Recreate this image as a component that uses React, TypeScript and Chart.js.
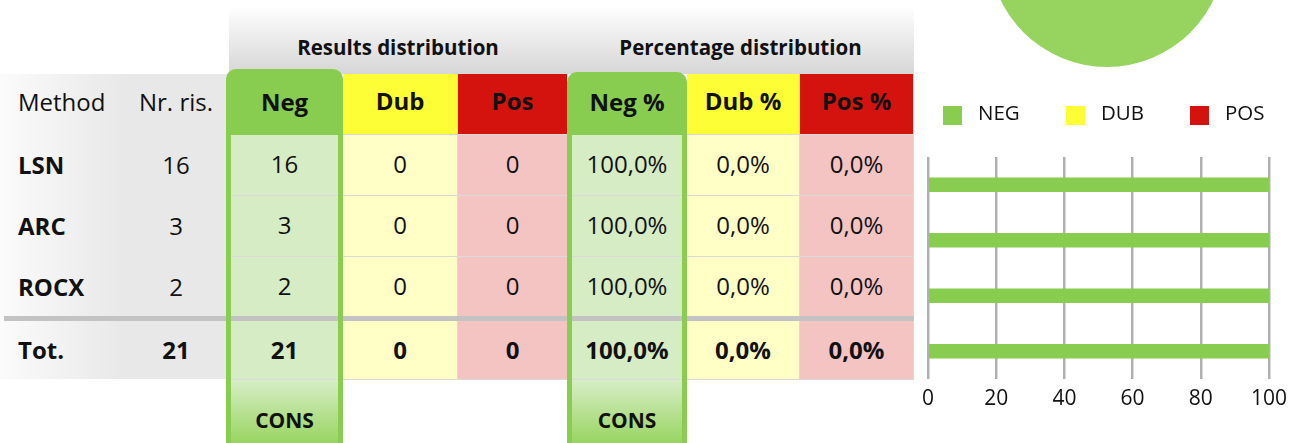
import React, { useEffect, useRef } from 'react';
import { Chart, registerables } from 'chart.js';

Chart.register(...registerables);

// ---------------- data ----------------
const methods = ['LSN', 'ARC', 'ROCX'];
const nrRis = [16, 3, 2];
const negCounts = [16, 3, 2];
const dubCounts = [0, 0, 0];
const posCounts = [0, 0, 0];
const totalLabel = 'Tot.';

const groupTitles = ['Results distribution', 'Percentage distribution'];
const leftHeads = ['Method', 'Nr. ris.'];
const columnHeads = ['Neg', 'Dub', 'Pos', 'Neg %', 'Dub %', 'Pos %'];
const footerLabel = 'CONS';

const barCategories = ['LSN', 'ARC', 'ROCX', 'Tot.'];
const negPercent = [100, 100, 100, 100];
const dubPercent = [0, 0, 0, 0];
const posPercent = [0, 0, 0, 0];
const seriesNames = ['NEG', 'DUB', 'POS'];
const xTickValues = [0, 20, 40, 60, 80, 100];
const pieTotals = [21, 0, 0];

// ---------------- styles ----------------
const FONT = '"Open Sans", "Noto Sans", sans-serif';
const GREEN = '#88cc50';
const GREEN_L = '#d6ecc4';
const PIE_GREEN = '#97d45f';
const YELLOW = '#fefe36';
const YELLOW_L = '#ffffc6';
const RED = '#d4130f';
const RED_L = '#f4c4c2';
const LINE = '#dadada';
const TEXT = '#111';

const sum = (a: number[]) => a.reduce((x, y) => x + y, 0);
const pct = (c: number, n: number) => (n ? (c / n) * 100 : 0);
const fmtPct = (v: number) => v.toFixed(1).replace('.', ',') + '%';

const totNr = sum(nrRis);
const totNeg = sum(negCounts);
const totDub = sum(dubCounts);
const totPos = sum(posCounts);

const columnValues: string[][] = [
  negCounts.map(String),
  dubCounts.map(String),
  posCounts.map(String),
  negCounts.map((c, i) => fmtPct(pct(c, nrRis[i]))),
  dubCounts.map((c, i) => fmtPct(pct(c, nrRis[i]))),
  posCounts.map((c, i) => fmtPct(pct(c, nrRis[i]))),
];
const columnTotals = [
  String(totNeg),
  String(totDub),
  String(totPos),
  fmtPct(pct(totNeg, totNr)),
  fmtPct(pct(totDub, totNr)),
  fmtPct(pct(totPos, totNr)),
];

const COLS = [
  { left: 231, width: 107, bg: GREEN, light: GREEN_L, rb: false, green: true },
  { left: 343, width: 115, bg: YELLOW, light: YELLOW_L, rb: true, green: false },
  { left: 458, width: 109, bg: RED, light: RED_L, rb: false, green: false },
  { left: 572, width: 110, bg: GREEN, light: GREEN_L, rb: false, green: true },
  { left: 687, width: 113, bg: YELLOW, light: YELLOW_L, rb: true, green: false },
  { left: 800, width: 114, bg: RED, light: RED_L, rb: true, green: false },
];
const FRAMES = [
  { left: 226, top: 69, width: 117 },
  { left: 567, top: 72, width: 120 },
];
const HEAD_TOP = 74;
const HEAD_H = 61;
const ROW_TOPS = [135, 196, 257];
const ROW_H = 61;
const TOT_TOP = 321;
const TOT_H = 59;
const FOOT_TOP = 380;
const HEAD_PAD = 7;
const ROW_PAD = 3;
const TOT_PAD = 2;

const LEGEND_X = [29, 152, 276];
const LEGEND_Y = 106;
const LEGEND_BOX = 19;

const legendPlugin = {
  id: 'manualLegend',
  afterDraw(chart: any) {
    const ctx = chart.ctx;
    ctx.save();
    chart.data.datasets.forEach((ds: any, i: number) => {
      const x = LEGEND_X[i];
      ctx.fillStyle = ds.backgroundColor;
      ctx.fillRect(x, LEGEND_Y, LEGEND_BOX, LEGEND_BOX);
      ctx.fillStyle = TEXT;
      ctx.font = '20.5px ' + FONT;
      ctx.textBaseline = 'alphabetic';
      ctx.textAlign = 'left';
      ctx.fillText(ds.label, x + 35, LEGEND_Y + 14);
    });
    ctx.restore();
  },
};

function Cell(props: {
  left: number; top: number; width: number; height: number; bg?: string;
  text?: string; bold?: boolean; size?: number; rb?: boolean; bb?: boolean;
  align?: 'left' | 'center'; padLeft?: number; padBottom?: number; z?: number;
}) {
  const { left, top, width, height, bg, text, bold, size = 24, rb, bb, align = 'center', padLeft = 0, padBottom = 0, z = 1 } = props;
  return (
    <div
      style={{
        position: 'absolute', left, top, width, height, background: bg || 'transparent',
        boxSizing: 'border-box',
        borderRight: rb ? `1px solid ${LINE}` : undefined,
        borderBottom: bb ? `1px solid ${LINE}` : undefined,
        display: 'flex', alignItems: 'center',
        justifyContent: align === 'left' ? 'flex-start' : 'center',
        paddingLeft: padLeft, paddingBottom: padBottom,
        fontSize: size, fontWeight: bold ? 700 : 400, color: TEXT,
        whiteSpace: 'nowrap', zIndex: z,
      }}
    >
      {text}
    </div>
  );
}

export default function App() {
  const barRef = useRef<HTMLCanvasElement>(null);
  const pieRef = useRef<HTMLCanvasElement>(null);

  useEffect(() => {
    Chart.defaults.font.family = FONT;
    let alive = true;
    const bar = new Chart(barRef.current as HTMLCanvasElement, {
      type: 'bar',
      data: {
        labels: barCategories,
        datasets: [
          { label: seriesNames[0], data: negPercent, backgroundColor: GREEN, borderWidth: 0, barThickness: 14 },
          { label: seriesNames[1], data: dubPercent, backgroundColor: YELLOW, borderWidth: 0, barThickness: 14 },
          { label: seriesNames[2], data: posPercent, backgroundColor: RED, borderWidth: 0, barThickness: 14 },
        ],
      },
      options: {
        indexAxis: 'y',
        responsive: false,
        animation: false,
        layout: { padding: { top: 157, left: 14, right: 30, bottom: 0 } },
        plugins: { legend: { display: false }, tooltip: { enabled: false } },
        scales: {
          x: {
            stacked: true,
            min: 0,
            max: 100,
            afterBuildTicks: (s: any) => { s.ticks = xTickValues.map((v) => ({ value: v })); },
            afterFit: (s: any) => { s.height = 64; },
            ticks: { color: TEXT, font: { family: FONT, size: 21 }, padding: 7, maxRotation: 0 },
            grid: { color: '#b0b0b0', lineWidth: 2.5, drawTicks: false },
            border: { display: false },
          },
          y: { stacked: true, display: false, grid: { display: false } },
        },
      } as any,
      plugins: [legendPlugin],
    });
    const pie = new Chart(pieRef.current as HTMLCanvasElement, {
      type: 'pie',
      data: {
        labels: seriesNames,
        datasets: [{ data: pieTotals, backgroundColor: [PIE_GREEN, YELLOW, RED], borderWidth: 0 }],
      },
      options: {
        responsive: false,
        animation: false,
        layout: { padding: 0 },
        plugins: { legend: { display: false }, tooltip: { enabled: false } },
      } as any,
    });
    if ((document as any).fonts && (document as any).fonts.ready) {
      (document as any).fonts.ready.then(() => { if (alive) { bar.update(); pie.update(); } });
    }
    return () => { alive = false; bar.destroy(); pie.destroy(); };
  }, []);

  const cells: React.ReactNode[] = [];
  COLS.forEach((c, ci) => {
    cells.push(
      <Cell key={`h${ci}`} left={c.left} top={HEAD_TOP} width={c.width} height={HEAD_H} bg={c.bg}
        text={columnHeads[ci]} bold rb={c.rb} bb={!c.green} padBottom={HEAD_PAD} />
    );
    ROW_TOPS.forEach((t, ri) => {
      cells.push(
        <Cell key={`c${ci}-${ri}`} left={c.left} top={t} width={c.width} height={ROW_H} bg={c.light}
          text={columnValues[ci][ri]} rb={c.rb} bb padBottom={ROW_PAD} />
      );
    });
    cells.push(
      <Cell key={`t${ci}`} left={c.left} top={TOT_TOP} width={c.width} height={TOT_H} bg={c.light}
        text={columnTotals[ci]} bold rb={c.rb} bb padBottom={TOT_PAD} />
    );
    if (c.green) {
      cells.push(
        <div key={`f${ci}`} style={{
          position: 'absolute', left: c.left, top: FOOT_TOP, width: c.width, height: 80,
          background: `linear-gradient(to bottom, #d8eec7 0%, ${PIE_GREEN} 80%)`,
          display: 'flex', alignItems: 'center', justifyContent: 'center',
          fontSize: 21, fontWeight: 700, color: TEXT, zIndex: 1,
        }}>{footerLabel}</div>
      );
    }
  });

  return (
    <div style={{
      position: 'absolute', left: 0, top: 0, width: 1299, height: 443, overflow: 'hidden',
      background: '#fff', fontFamily: FONT,
    }}>
      {/* top header band */}
      <div style={{
        position: 'absolute', left: 229, top: 0, width: 685, height: 74,
        background: 'linear-gradient(to bottom, #ffffff 8%, #d6d6d6 100%)', zIndex: 0,
      }} />
      <div style={{ position: 'absolute', left: 229, top: 35, width: 338, height: 24, lineHeight: '24px', textAlign: 'center', fontSize: 20.5, fontWeight: 700, color: TEXT, zIndex: 1 }}>{groupTitles[0]}</div>
      <div style={{ position: 'absolute', left: 567, top: 35, width: 347, height: 24, lineHeight: '24px', textAlign: 'center', fontSize: 20.5, fontWeight: 700, color: TEXT, zIndex: 1 }}>{groupTitles[1]}</div>

      {/* left grey block */}
      <div style={{
        position: 'absolute', left: 0, top: 74, width: 229, height: 305,
        background: 'linear-gradient(to right, #fbfbfb 0px, #e8e8e8 125px, #e8e8e8 229px)', zIndex: 0,
      }} />
      <Cell left={0} top={HEAD_TOP} width={122} height={HEAD_H} text={leftHeads[0]} align="left" padLeft={18} padBottom={HEAD_PAD} />
      <Cell left={122} top={HEAD_TOP} width={108} height={HEAD_H} text={leftHeads[1]} padBottom={HEAD_PAD} />
      {ROW_TOPS.map((t, ri) => (
        <React.Fragment key={`l${ri}`}>
          <Cell left={0} top={t} width={122} height={ROW_H - 1} text={methods[ri]} bold align="left" padLeft={18} padBottom={ROW_PAD - 1} />
          <Cell left={122} top={t} width={108} height={ROW_H - 1} text={String(nrRis[ri])} padBottom={ROW_PAD - 1} />
        </React.Fragment>
      ))}
      <Cell left={0} top={TOT_TOP} width={122} height={TOT_H - 1} text={totalLabel} bold align="left" padLeft={18} padBottom={TOT_PAD - 1} />
      <Cell left={122} top={TOT_TOP} width={108} height={TOT_H - 1} text={String(totNr)} bold padBottom={TOT_PAD - 1} />

      {cells}

      {/* total separator */}
      <div style={{ position: 'absolute', left: 4, top: 316, width: 910, height: 5, background: '#c3c3c3', zIndex: 3 }} />

      {/* green frames */}
      {FRAMES.map((f, i) => (
        <div key={`fr${i}`} style={{
          position: 'absolute', left: f.left, top: f.top, width: f.width, height: 443 - f.top + 30,
          border: `5px solid ${GREEN}`, borderRadius: '10px 10px 0 0', boxSizing: 'border-box',
          zIndex: 5, pointerEvents: 'none',
        }} />
      ))}

      <canvas ref={pieRef} width={236} height={236} style={{ position: 'absolute', left: 989, top: -169, zIndex: 2 }} />
      <canvas ref={barRef} width={385} height={443} style={{ position: 'absolute', left: 914, top: 0, zIndex: 2 }} />
    </div>
  );
}
